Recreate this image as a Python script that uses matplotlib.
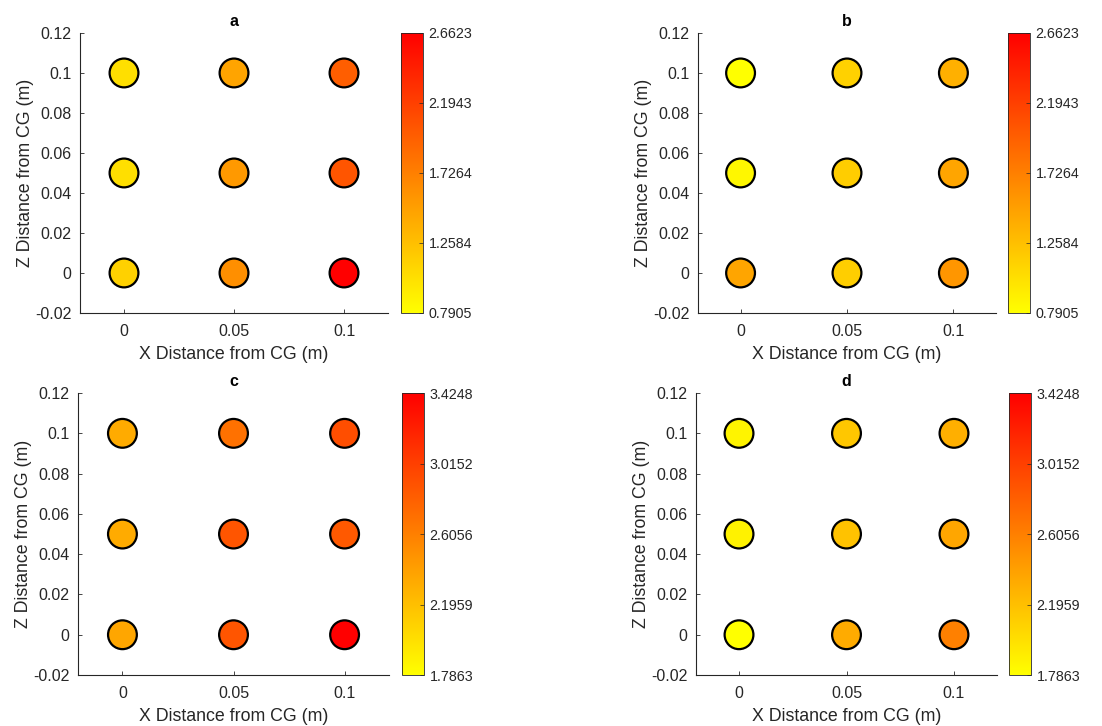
import numpy as np
import matplotlib
matplotlib.use('Agg')
import matplotlib.pyplot as plt

plt.rcParams['font.family'] = ['Liberation Sans', 'DejaVu Sans']

# grid of sensor positions (m)
x_pos = [0, 0.05, 0.1, 0, 0.05, 0.1, 0, 0.05, 0.1]
z_pos = [0.1, 0.1, 0.1, 0.05, 0.05, 0.05, 0, 0, 0]

# values, same order as positions
vals_a = [1.03, 1.46, 1.97, 1.03, 1.54, 2.04, 1.13, 1.61, 2.6623]
vals_b = [0.7905, 1.13, 1.37, 0.85, 1.16, 1.45, 1.45, 1.15, 1.56]
vals_c = [2.33, 2.70, 2.92, 2.33, 2.88, 2.85, 2.36, 2.88, 3.4248]
vals_d = [1.86, 2.15, 2.30, 1.87, 2.18, 2.36, 1.7863, 2.33, 2.60]

lims_ab = (0.7905, 2.6623)
lims_cd = (1.7863, 3.4248)
cb_labels_ab = ['0.7905', '1.2584', '1.7264', '2.1943', '2.6623']
cb_labels_cd = ['1.7863', '2.1959', '2.6056', '3.0152', '3.4248']

xticks = [0, 0.05, 0.1]
xtick_labels = ['0', '0.05', '0.1']
yticks = [-0.02, 0, 0.02, 0.04, 0.06, 0.08, 0.1, 0.12]
ytick_labels = ['-0.02', '0', '0.02', '0.04', '0.06', '0.08', '0.1', '0.12']

gray = '#262626'

panels = [
    ('a', vals_a, lims_ab, cb_labels_ab, [0.0726, 0.5689, 0.2795, 0.3857], [0.3639, 0.5689, 0.0200, 0.3857]),
    ('b', vals_b, lims_ab, cb_labels_ab, [0.6334, 0.5689, 0.2704, 0.3857], [0.9147, 0.5689, 0.0200, 0.3857]),
    ('c', vals_c, lims_cd, cb_labels_cd, [0.0708, 0.0702, 0.2822, 0.3884], [0.3648, 0.0702, 0.0200, 0.3884]),
    ('d', vals_d, lims_cd, cb_labels_cd, [0.6316, 0.0702, 0.2731, 0.3884], [0.9156, 0.0702, 0.0200, 0.3884]),
]

fig = plt.figure(figsize=(11.02, 7.26), dpi=100)

for title, vals, lims, cblab, apos, cpos in panels:
    ax = fig.add_axes(apos)
    sc = ax.scatter(x_pos, z_pos, c=vals, cmap='autumn_r', vmin=lims[0], vmax=lims[1],
                    s=430, edgecolors='black', linewidths=1.6, zorder=3)
    ax.set_xlim(-0.02, 0.12)
    ax.set_ylim(-0.02, 0.12)
    ax.set_xticks(xticks)
    ax.set_xticklabels(xtick_labels)
    ax.set_yticks(yticks)
    ax.set_yticklabels(ytick_labels)
    for s in ['top', 'right']:
        ax.spines[s].set_visible(False)
    for s in ['left', 'bottom']:
        ax.spines[s].set_color(gray)
        ax.spines[s].set_linewidth(0.8)
    ax.tick_params(direction='in', length=3, width=0.6, colors=gray, labelsize=11.5)
    ax.tick_params(axis='x', pad=8)
    ax.tick_params(axis='y', pad=6)
    ax.set_xlabel('X Distance from CG (m)', fontsize=12.8, color=gray, labelpad=5)
    ax.set_ylabel('Z Distance from CG (m)', fontsize=12.8, color=gray, labelpad=1)
    ax.set_title(title, fontsize=11.5, fontweight='bold', pad=5)

    cax = fig.add_axes(cpos)
    cb = fig.colorbar(sc, cax=cax, ticks=np.linspace(lims[0], lims[1], 5))
    cb.set_ticklabels(cblab)
    cb.outline.set_edgecolor(gray)
    cb.outline.set_linewidth(0.6)
    cax.tick_params(direction='in', length=3, width=0.5, colors=gray, labelsize=10.3, pad=4)

fig.savefig('out.png', dpi=100)
